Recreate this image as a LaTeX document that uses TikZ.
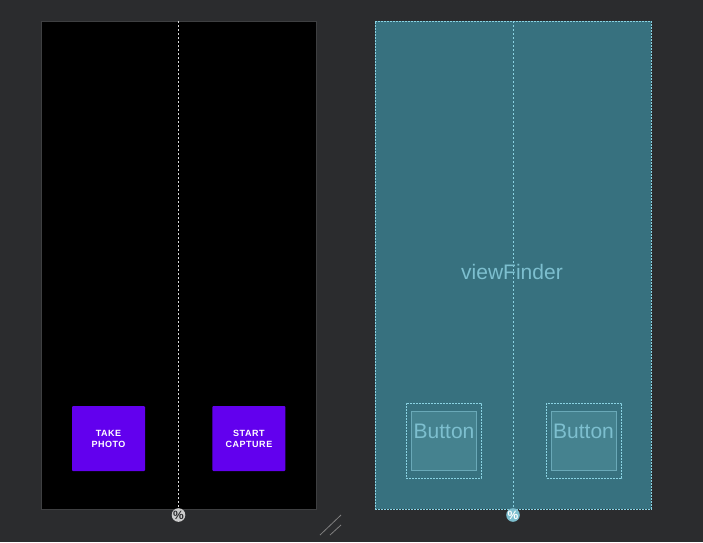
\documentclass[tikz,border=0pt]{standalone}
\usepackage{fontspec}
\setmainfont{Liberation Sans}
\usetikzlibrary{positioning}
\definecolor{bgdark}{HTML}{2B2C2E}
\definecolor{screenedge}{HTML}{3E3F41}
\definecolor{btnpurple}{HTML}{6200EE}
\definecolor{bpfill}{HTML}{37717F}
\definecolor{bpline}{HTML}{8AD3E3}
\definecolor{bptext}{HTML}{7DBFCF}
\definecolor{bpinner}{HTML}{45828F}
\definecolor{bpinline}{HTML}{6AA9B8}
\tikzset{
  screen/.style={draw=screenedge, fill=black, line width=1pt, inner sep=0pt},
  blueprint/.style={draw=bpline, fill=bpfill, dashed, dash pattern=on 2pt off 1pt, line width=0.8pt, inner sep=0pt},
  purplebtn/.style={fill=btnpurple, rounded corners=1pt, minimum width=73pt, minimum height=65pt, inner sep=0pt, text=white, font=\fontsize{9}{11}\bfseries\selectfont\addfontfeature{LetterSpace=6}, align=center},
  bpbtn/.style={draw=bpline, dashed, dash pattern=on 2pt off 1pt, line width=0.7pt, minimum width=75pt, minimum height=75pt, inner sep=0pt},
  bpinbtn/.style={draw=bpinline, fill=bpinner, line width=0.6pt, minimum width=65pt, minimum height=59pt, inner sep=0pt},
  bplabel/.style={text=bptext, font=\fontsize{21}{24}\selectfont},
  guide/.style={dashed, dash pattern=on 2pt off 2pt, line width=0.8pt},
  pct/.style={circle, inner sep=0pt, minimum size=13pt, font=\fontsize{12}{12}\bfseries\selectfont}
}
\begin{document}
\begin{tikzpicture}[x=1pt, y=-1pt]

    % background
    \fill[bgdark] (0,0) rectangle (703,542);
    \useasboundingbox (0,0) rectangle (703,542);

    %nodes
    \node[screen, minimum width=275pt, minimum height=488pt] (design) at (178.5,265) {};
    \node[blueprint, minimum width=276pt, minimum height=488pt] (blue) at (513,265) {};

    \coordinate (dtop) at (178.5,21);
    \coordinate (dbot) at (178.5,510);
    \coordinate (btop) at (513,21);
    \coordinate (bbot) at (513,510);

    \draw[guide, white!85!black] (dtop) -- (dbot);
    \draw[guide, bpline] (btop) -- (bbot);

    \node[purplebtn] (photo) at (108.5,438.5) {TAKE\\PHOTO};
    \node[purplebtn, right=67pt of photo] (capture) {START\\CAPTURE};

    \node[bplabel] (finder) at (512,272) {viewFinder};

    \node[bpbtn] (bpphoto) at (443.5,440.5) {};
    \node[bpinbtn] (inphoto) at (bpphoto.center) {};
    \node[bplabel] at (444,431) {Button};
    \node[bpbtn, right=65pt of bpphoto] (bpcapture) {};
    \node[bpinbtn] (incapture) at (bpcapture.center) {};
    \node[bplabel] at (583.5,431) {Button};

    \node[pct, fill=white!80!black, text=bgdark] (pctleft) at (178.5,515) {\%};
    \node[pct, fill=bptext, text=white] (pctright) at (513,515) {\%};

    % resize marks
    \coordinate (ma) at (320,535);
    \coordinate (mb) at (341,515);
    \coordinate (mc) at (330,535);
    \coordinate (md) at (341,525);
    \draw[gray, line width=0.8pt] (ma) -- (mb);
    \draw[gray, line width=0.8pt] (mc) -- (md);

\end{tikzpicture}
\end{document}
